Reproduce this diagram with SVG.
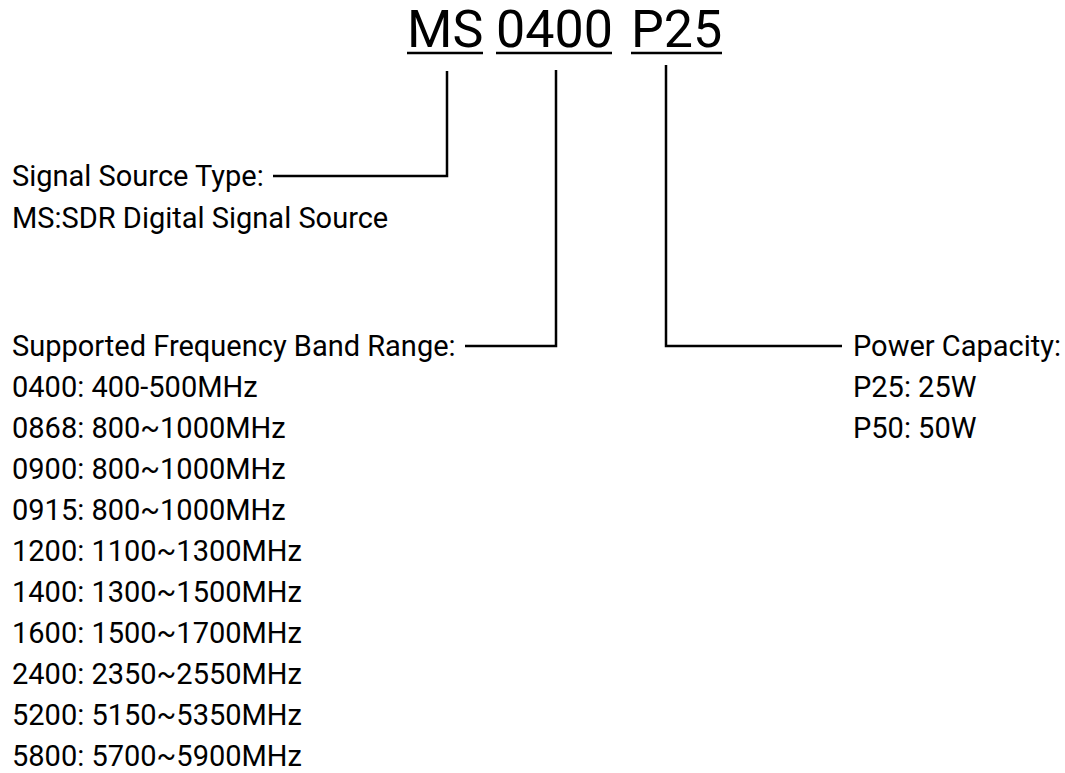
<svg xmlns="http://www.w3.org/2000/svg" width="1065" height="773" viewBox="0 0 1065 773">
<style>
.t{font-family:Roboto,"Liberation Sans",sans-serif;fill:#000}
.title{font-size:52px}
.lbl{font-size:29px}
.ul{stroke:#000;stroke-width:2.5;fill:none}
.ln{stroke:#000;stroke-width:2.5;fill:none}
</style>
<rect width="1065" height="773" fill="#fff"/>
<g id="title">
<text class="t title" x="407" y="47">MS</text>
<text class="t title" x="496" y="47">0400</text>
<text class="t title" x="631" y="47">P25</text>
<line class="ul" x1="407" y1="53" x2="483" y2="53"/>
<line class="ul" x1="496" y1="53" x2="612" y2="53"/>
<line class="ul" x1="631" y1="53" x2="722" y2="53"/>
</g>
<g id="connectors">
<polyline class="ln" points="447,71 447,176 273,176"/>
<polyline class="ln" points="556,70 556,346 465,346"/>
<polyline class="ln" points="666,65 666,346 842,346"/>
</g>
<g id="node-type">
<text class="t lbl" x="12" y="186">Signal Source Type:</text>
<text class="t lbl" x="12" y="228">MS:SDR Digital Signal Source</text>
</g>
<g id="node-band">
<text class="t lbl" x="12" y="356">Supported Frequency Band Range:</text>
<text class="t lbl" x="12" y="397">0400: 400-500MHz</text>
<text class="t lbl" x="12" y="438">0868: 800~1000MHz</text>
<text class="t lbl" x="12" y="479">0900: 800~1000MHz</text>
<text class="t lbl" x="12" y="520">0915: 800~1000MHz</text>
<text class="t lbl" x="12" y="561">1200: 1100~1300MHz</text>
<text class="t lbl" x="12" y="602">1400: 1300~1500MHz</text>
<text class="t lbl" x="12" y="643">1600: 1500~1700MHz</text>
<text class="t lbl" x="12" y="684">2400: 2350~2550MHz</text>
<text class="t lbl" x="12" y="725">5200: 5150~5350MHz</text>
<text class="t lbl" x="12" y="766">5800: 5700~5900MHz</text>
</g>
<g id="node-power">
<text class="t lbl" x="853" y="356">Power Capacity:</text>
<text class="t lbl" x="853" y="397">P25: 25W</text>
<text class="t lbl" x="853" y="438">P50: 50W</text>
</g>
</svg>
